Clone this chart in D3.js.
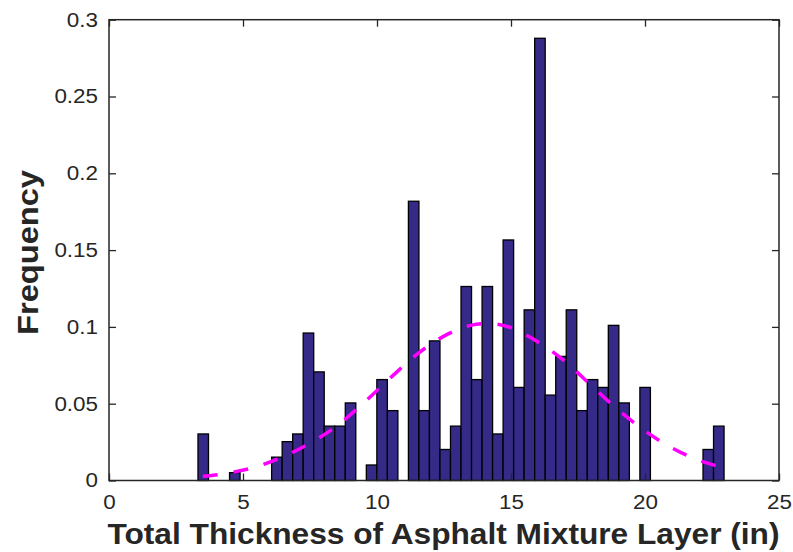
<!DOCTYPE html>
<html>
<head>
<meta charset="utf-8">
<script src="https://cdn.jsdelivr.net/npm/d3@7"></script>
<style>
  html, body { margin: 0; padding: 0; background: #fff; }
  svg { display: block; }
  text { font-family: "Liberation Sans", Arial, Helvetica, sans-serif; }
</style>
</head>
<body>
<svg id="chart" width="793" height="552"></svg>
<script>
// ---- data ----
const binStart = 3.32;      // left edge of first histogram bin (in)
const binWidth = 0.3926;    // bin width (in)
const frequencies = [
  0.0303, 0, 0, 0.0051, 0, 0, 0, 0.0152, 0.0253, 0.0303,
  0.0960, 0.0707, 0.0354, 0.0354, 0.0505, 0, 0.0101, 0.0657, 0.0455, 0,
  0.1818, 0.0455, 0.0909, 0.0202, 0.0354, 0.1263, 0.0657, 0.1263, 0.0303, 0.1566,
  0.0606, 0.1111, 0.2879, 0.0556, 0.0808, 0.1111, 0.0455, 0.0657, 0.0606, 0.1010,
  0.0505, 0, 0.0606, 0, 0, 0, 0, 0, 0.0202, 0.0354
];
const fitX = [3.5, 4.5, 5.5, 6.5, 7.5, 8.5, 9.5, 10.5, 11.5, 12.5, 13.5, 14.2, 15.0, 16.0, 17.0, 18.0, 19.0, 20.0, 21.0, 22.0, 22.9];
const fitY = [0.0027, 0.0050, 0.0090, 0.0155, 0.0243, 0.0355, 0.0505, 0.0668, 0.0823, 0.0940, 0.1010, 0.1022, 0.0995, 0.0902, 0.0778, 0.0618, 0.0460, 0.0323, 0.0213, 0.0132, 0.0085];
const xTicks = [0, 5, 10, 15, 20, 25];
const xTickLabels = ["0", "5", "10", "15", "20", "25"];
const yTicks = [0, 0.05, 0.1, 0.15, 0.2, 0.25, 0.3];
const yTickLabels = ["0", "0.05", "0.1", "0.15", "0.2", "0.25", "0.3"];
const xLabel = "Total Thickness of Asphalt Mixture Layer (in)";
const yLabel = "Frequency";

// ---- layout ----
const L = 109, R = 779, T = 19.7, B = 480.5;
const svg = d3.select("#chart");
svg.append("rect").attr("width", 793).attr("height", 552).attr("fill", "#fff");

const x = d3.scaleLinear().domain([0, 25]).range([L, R]);
const y = d3.scaleLinear().domain([0, 0.3]).range([B, T]);

const ink = "#262626";

// bars
const bins = frequencies.map((f, i) => ({ x0: binStart + i * binWidth, x1: binStart + (i + 1) * binWidth, f }));
svg.append("g").selectAll("rect").data(bins.filter(d => d.f > 0)).join("rect")
  .attr("x", d => x(d.x0))
  .attr("width", d => x(d.x1) - x(d.x0))
  .attr("y", d => y(d.f))
  .attr("height", d => y(0) - y(d.f))
  .attr("fill", "#352A87")
  .attr("stroke", "#000")
  .attr("stroke-width", 1.3);

// fitted curve
const line = d3.line().x(d => x(d[0])).y(d => y(d[1])).curve(d3.curveMonotoneX);
svg.append("path")
  .attr("d", line(fitX.map((v, i) => [v, fitY[i]])))
  .attr("fill", "none")
  .attr("stroke", "#FF00FF")
  .attr("stroke-width", 3.5)
  .attr("stroke-dasharray", "15,16");

// axes
function styleAxis(g) {
  g.select(".domain").remove();
  g.selectAll(".tick line").attr("stroke", ink).attr("stroke-width", 1.3);
  g.selectAll(".tick text").attr("fill", ink).style("font-size", "20px");
}
const gx = svg.append("g").attr("transform", `translate(0,${B})`)
  .call(d3.axisBottom(x).tickValues(xTicks).tickFormat((d, i) => xTickLabels[i]).tickSizeInner(-7).tickSizeOuter(0).tickPadding(14))
  .call(styleAxis);
const gy = svg.append("g").attr("transform", `translate(${L},0)`)
  .call(d3.axisLeft(y).tickValues(yTicks).tickFormat((d, i) => yTickLabels[i]).tickSizeInner(-7).tickSizeOuter(0).tickPadding(11))
  .call(styleAxis);
svg.append("g").attr("transform", `translate(0,${T})`)
  .call(d3.axisTop(x).tickValues(xTicks).tickFormat("").tickSizeInner(-7).tickSizeOuter(0))
  .call(styleAxis);
svg.append("g").attr("transform", `translate(${R},0)`)
  .call(d3.axisRight(y).tickValues(yTicks).tickFormat("").tickSizeInner(-7).tickSizeOuter(0))
  .call(styleAxis);

// widen tick labels slightly to match reference glyph widths
svg.selectAll(".tick text").each(function() {
  const w = this.getComputedTextLength();
  if (w > 0) d3.select(this).attr("textLength", w * 1.12).attr("lengthAdjust", "spacingAndGlyphs");
});

// box
svg.append("rect").attr("x", L).attr("y", T).attr("width", R - L).attr("height", B - T)
  .attr("fill", "none").attr("stroke", ink).attr("stroke-width", 1.5);

// labels
svg.append("text")
  .attr("x", (L + R) / 2 - 0.5).attr("y", 544)
  .attr("text-anchor", "middle")
  .attr("fill", ink)
  .style("font-size", "30px").style("font-weight", "bold")
  .attr("textLength", 672).attr("lengthAdjust", "spacingAndGlyphs")
  .text(xLabel);
svg.append("text")
  .attr("transform", "translate(38,252.5) rotate(-90)")
  .attr("text-anchor", "middle")
  .attr("fill", ink)
  .style("font-size", "30px").style("font-weight", "bold")
  .attr("textLength", 165).attr("lengthAdjust", "spacingAndGlyphs")
  .text(yLabel);
</script>
</body>
</html>
